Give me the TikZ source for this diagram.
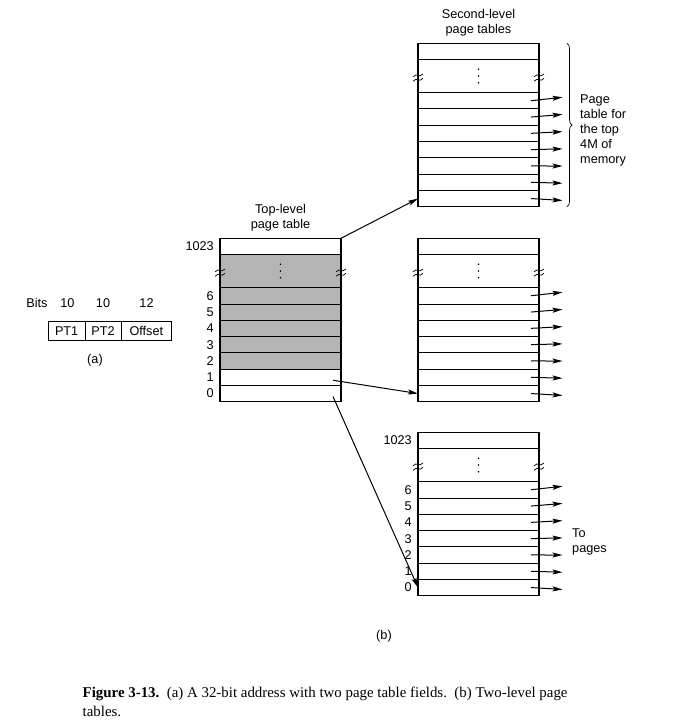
\documentclass[tikz,border=0pt]{standalone}
\usepackage{fontspec}
\setmainfont{Liberation Sans}
\newfontfamily\capfont{Liberation Serif}
\usetikzlibrary{arrows.meta,decorations.pathreplacing,calc}
\definecolor{shadegray}{RGB}{180,180,180}
\tikzset{
  lbl/.style={font=\fontsize{12.7}{15.2}\selectfont, inner sep=0pt},
  tabbox/.style={minimum width=121pt, minimum height=163.4pt, inner sep=0pt, outer sep=0pt, anchor=north west},
  tabborder/.style={line width=1.2pt},
  rowline/.style={line width=0.8pt},
  squig/.style={line width=0.7pt},
  arr/.style={line width=1pt, -{Stealth[length=10pt,width=5pt,inset=2pt]}},
  field/.style={draw, line width=1pt, minimum height=19.7pt, inner sep=0pt, font=\fontsize{12.7}{14}\selectfont},
}
\newcommand\PTab[4]{%
  \path node[tabbox] (#1) at (#2,#3) {};
  \begin{scope}[shift={(#1.north west)}]
    \ifnum#4=1 \fill[shadegray] (0,16.3) rectangle (121,130.8); \fi
    \draw[rowline] (0,16.3) -- (121,16.3) (0,49.3) -- (121,49.3);
    \foreach \k in {1,...,6} \draw[rowline] (0,{49.3+16.3*\k}) -- (121,{49.3+16.3*\k});
    \foreach \k in {0,...,6} {
      \coordinate (#1-L\k) at (0,{57.45+16.3*(6-\k)});
      \coordinate (#1-R\k) at (121,{57.45+16.3*(6-\k)});
      \coordinate (#1-S\k) at (113,{57.45+16.3*(6-\k)});
      \coordinate (#1-E\k) at (144.5,{57.45+16.3*(6-\k)-3.5+(6-\k)*0.9});
      \coordinate (#1-C\k) at (113,{57.45+16.3*(6-\k)+3});
    }
    \coordinate (#1-T) at (0,8.15);
    \fill (60.5,26) circle[radius=0.9pt] (60.5,32.7) circle[radius=0.9pt] (60.5,39.4) circle[radius=0.9pt];
    \foreach \xx in {0,121} {
      \draw[squig] (\xx-5,33.6) .. controls (\xx-1,28.6) and (\xx+1,35.6) .. (\xx+5,30.6);
      \draw[squig] (\xx-5,38.0) .. controls (\xx-1,33.0) and (\xx+1,40.0) .. (\xx+5,35.0);
    }
  \end{scope}
  \draw[tabborder] (#1.north west) rectangle (#1.south east);
}
\begin{document}
\begin{tikzpicture}[x=1pt,y=-1pt]
\useasboundingbox[fill=white] (0,0) rectangle (673,727);

% (a) address fields
\node[lbl] (bits) at (37,303) {Bits};
\node[lbl] (b1) at (67.5,303) {10};
\node[lbl] (b2) at (103,303) {10};
\node[lbl] (b3) at (146.5,303) {12};
\node[field, minimum width=36.7pt] (pt1) at (66.65,330.85) {PT1};
\node[field, minimum width=36pt] (pt2) at (103,330.85) {PT2};
\node[field, minimum width=50.7pt] (off) at (146.35,330.85) {Offset};
\node[lbl] (la) at (95,360) {(a)};

% tables
\PTab{top}{220}{238.3}{1}
\PTab{sa}{418}{43.3}{0}
\PTab{sb}{418}{238.3}{0}
\PTab{sc}{418}{432.3}{0}

% titles
\node[lbl, align=center] (ttop) at (280.5,217.5) {Top-level\\page table};
\node[lbl, align=center] (tsec) at (478.5,22.5) {Second-level\\page tables};

% row labels
\node[lbl, anchor=east] (n1023) at ($(top-T)+(-6,0)$) {1023};
\node[lbl, anchor=east] (m1023) at ($(sc-T)+(-6,0)$) {1023};
\foreach \k in {0,...,6} {
  \node[lbl, anchor=east] (nt\k) at ($(top-L\k)+(-6,0)$) {\k};
  \node[lbl, anchor=east] (nc\k) at ($(sc-L\k)+(-6,0)$) {\k};
}

% outgoing arrows to pages
\foreach \t in {sa,sb,sc} {
  \foreach \k in {0,...,6} \draw[arr] (\t-S\k) -- (\t-E\k);
}

% connectors from top-level table
\draw[arr] (top.north east) -- (sa-L0);
\draw[arr] (top-C1) -- (sb-L0);
\draw[arr] (top-C0) -- (sc-L0);

% brace and notes
\coordinate (bra) at (567,43.3);
\coordinate (brb) at (567,206.7);
\draw[line width=0.7pt, decorate, decoration={brace, amplitude=5pt}] (bra) -- (brb);
\node[lbl, align=left, anchor=west] (note1) at (580,130.5) {Page\\table for\\the top\\4M of\\memory};
\node[lbl, align=left, anchor=west] (note2) at (572,541.7) {To\\pages};
\node[lbl] (lb) at (384,636) {(b)};

% caption
\node[anchor=north west, align=left, inner sep=0pt, font=\capfont\fontsize{14.9}{19}\selectfont] (cap) at (82.5,687)
  {\textbf{Figure 3-13.}\ \ (a) A 32-bit address with two page table fields.\ \ (b) Two-level page\\tables.};
\end{tikzpicture}
\end{document}
